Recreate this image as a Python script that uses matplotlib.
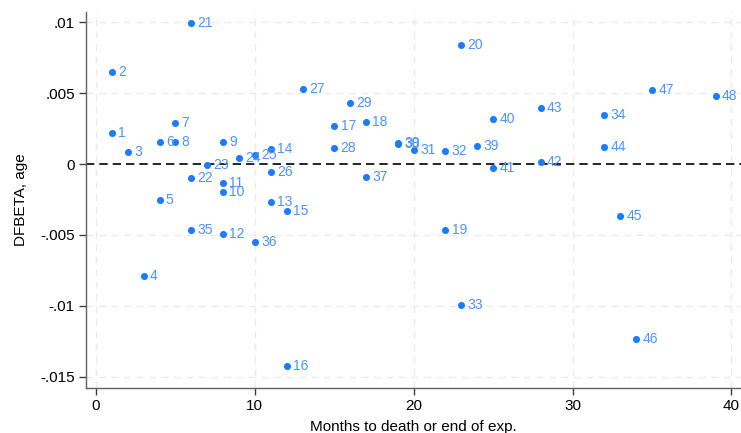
import matplotlib.pyplot as plt
from matplotlib.ticker import FuncFormatter

# observation id, months to death / end of exposure, DFBETA for age
obs_id = list(range(1, 49))
months = [1, 1, 2, 3, 4, 4, 5, 5, 8, 8,
          8, 8, 11, 11, 12, 12, 15, 17, 22, 23,
          6, 6, 7, 9, 10, 11, 13, 15, 16, 19,
          20, 22, 23, 32, 6, 10, 17, 19, 24, 25,
          25, 28, 28, 32, 33, 34, 35, 39]
dfbeta_age = [0.00221, 0.00652, 0.00087, -0.00789, -0.00257, 0.00158, 0.0029, 0.00158, 0.00158, -0.00198,
              -0.00132, -0.00494, -0.00268, 0.00104, -0.0033, -0.01427, 0.00266, 0.00294, -0.00464, 0.0084,
              0.00995, -0.00101, -0.00007, 0.0004, 0.00064, -0.00059, 0.00528, 0.00115, 0.00429, 0.00146,
              0.00099, 0.00094, -0.00998, 0.00348, -0.00464, -0.00553, -0.00094, 0.00141, 0.00127, 0.0032,
              -0.00028, 0.00012, 0.00393, 0.00118, -0.00368, -0.01238, 0.00525, 0.00478]

x_ticks = [0, 10, 20, 30, 40]
y_ticks = [-0.015, -0.01, -0.005, 0, 0.005, 0.01]

dot_color = '#1a7cff'
label_color = '#4a94ff'

fig = plt.figure(figsize=(7.41, 4.33), dpi=100)
ax = fig.add_axes([0.116, 0.104, 0.884, 0.868])

ax.set_xlim(-0.63, 40.6)
ax.set_ylim(-0.0158, 0.01072)

for xv in x_ticks:
    ax.axvline(xv, color='#ebebeb', linestyle=(0, (5, 4)), linewidth=1, zorder=0)
for yv in y_ticks:
    if yv != 0:
        ax.axhline(yv, color='#ebebeb', linestyle=(0, (5, 4)), linewidth=1, zorder=0)
ax.axhline(0, color='black', linestyle=(0, (5, 3)), linewidth=1.2, zorder=1)

ax.scatter(months, dfbeta_age, s=26, color=dot_color, zorder=3, linewidths=0)
for i, xv, yv in zip(obs_id, months, dfbeta_age):
    ax.annotate(str(i), (xv, yv), xytext=(4.5, 0), textcoords='offset points',
                va='center', ha='left', fontsize=10, color=label_color,
                family='Liberation Sans', zorder=4)

ax.set_xticks(x_ticks)
ax.set_yticks(y_ticks)


def fmt(v, pos):
    if abs(v) < 1e-12:
        return '0'
    s = ('%g' % v).replace('0.', '.')
    return s


ax.yaxis.set_major_formatter(FuncFormatter(fmt))

narrow = ['Liberation Sans Narrow', 'Liberation Sans', 'DejaVu Sans']
for lab in ax.get_xticklabels() + ax.get_yticklabels():
    lab.set_family(narrow)
    lab.set_fontsize(11)

ax.set_xlabel('Months to death or end of exp.', family=narrow, fontsize=11, labelpad=5)
ax.set_ylabel('DFBETA, age', family=narrow, fontsize=11, labelpad=9)

ax.spines['top'].set_visible(False)
ax.spines['right'].set_visible(False)
for sp in ['left', 'bottom']:
    ax.spines[sp].set_color('#606060')
    ax.spines[sp].set_linewidth(1)
ax.tick_params(direction='out', length=5, width=1, color='#404040', pad=3)

fig.savefig('out.png', dpi=100)
